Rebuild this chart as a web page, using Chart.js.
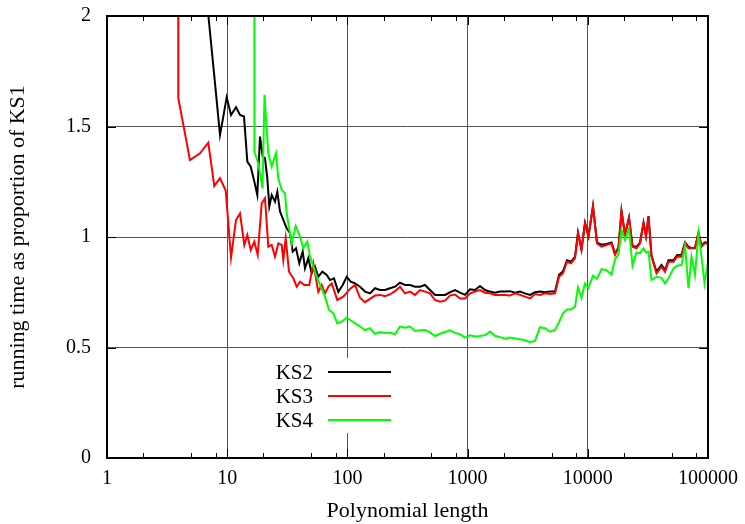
<!DOCTYPE html>
<html>
<head>
<meta charset="utf-8">
<script src="https://cdn.jsdelivr.net/npm/chart.js@4.4.1/dist/chart.umd.min.js"></script>
<style>
  html, body { margin: 0; padding: 0; background: #fff; }
</style>
</head>
<body>
<canvas id="runChart" width="745" height="524"></canvas>
<script>
// series names / colours
const seriesNames = ['KS2', 'KS3', 'KS4'];
const seriesColors = ['#000000', '#ff0000', '#00ff00'];

// start of each curve (lengths below ~120 differ per series)
const ks2HeadX = [6.5, 7.92, 8.71, 9.28, 9.90, 10.76, 11.84, 12.78, 13.80, 14.70, 15.69, 16.81, 17.80, 18.75, 19.74, 20.63, 21.56, 22.40, 23.46, 24.98, 26.12, 27.50, 29.29, 31.26, 33.31, 35.07, 37.36, 39.80, 42.47, 44.39, 47.29, 50.47, 53.77, 57.28, 61.83, 67.27, 71.65, 77.34, 84.03, 91.40, 98.7, 106.5, 115.7];
const ks2HeadY = [2.17, 1.695, 1.462, 1.545, 1.632, 1.552, 1.587, 1.552, 1.545, 1.341, 1.318, 1.251, 1.19, 1.454, 1.364, 1.356, 1.266, 1.138, 1.19, 1.16, 1.205, 1.115, 1.077, 1.039, 1.017, 0.934, 0.949, 0.881, 0.934, 0.858, 0.904, 0.836, 0.866, 0.82, 0.843, 0.828, 0.805, 0.813, 0.752, 0.783, 0.82, 0.798, 0.79];

const ks3HeadX = [3.9, 3.92, 4.90, 5.94, 6.96, 7.81, 8.71, 9.72, 10.76, 11.84, 12.78, 13.88, 14.70, 15.69, 16.81, 17.94, 19.36, 20.63, 21.98, 23.46, 24.98, 26.61, 28.41, 29.29, 30.67, 32.67, 35.47, 37.86, 40.35, 43.80, 48.19, 52.04, 57.28, 61.13, 65.12, 69.37, 74.03, 82.41, 92.46, 105.1, 115.7];
const ks3HeadY = [3.0, 1.628, 1.348, 1.379, 1.427, 1.231, 1.266, 1.21, 0.906, 1.077, 1.107, 0.964, 1.009, 0.941, 0.979, 0.919, 1.152, 1.175, 0.956, 0.964, 0.911, 0.971, 0.964, 0.896, 0.994, 0.843, 0.813, 0.775, 0.798, 0.783, 0.783, 0.881, 0.752, 0.783, 0.745, 0.775, 0.79, 0.715, 0.73, 0.765, 0.783];

const ks4HeadX = [16.8, 16.85, 18.14, 19.67, 20.43, 21.98, 23.46, 25.47, 26.61, 28.41, 30.27, 31.26, 34.40, 37.14, 40.35, 42.96, 46.39, 48.86, 52.04, 55.55, 59.16, 65.12, 70.31, 76.30, 82.41, 89.68, 98.7, 108.6, 119.5];
const ks4HeadY = [3.0, 1.386, 1.333, 1.22, 1.643, 1.379, 1.318, 1.379, 1.266, 1.213, 1.198, 1.107, 0.971, 1.05, 1.002, 0.949, 0.979, 0.911, 0.866, 0.82, 0.783, 0.73, 0.67, 0.655, 0.609, 0.617, 0.635, 0.62, 0.605];

// rest of the curves share the same lengths
const tailX = [127.3, 140.1, 154.2, 169.7, 186.7, 205.5, 226.1, 248.9, 273.8, 301.4, 331.7, 365.0, 401.8, 442.1, 486.6, 535.6, 589.3, 648.6, 713.8, 785.6,
  864.8, 951.5, 1047, 1152, 1268, 1396, 1536, 1690, 1860, 2047, 2253, 2479, 2729, 3003, 3305, 3637, 4003, 4406, 4849, 5336,
  5760, 6219, 6714, 7250, 7827, 8289, 8862, 9478, 10134, 11048, 11929, 13002, 14308, 15745, 16842, 18007, 19071, 20393, 22019, 23543,
  25421, 27188, 29070, 30497, 31989, 33884, 37291, 41036, 43885, 46933, 51646, 55231, 60205, 64385, 68820, 72910, 77951, 83375, 88306, 93510, 100000];

const ks2Tail = [0.775, 0.753, 0.745, 0.768, 0.76, 0.76, 0.768, 0.775, 0.793, 0.783, 0.783, 0.775, 0.775, 0.783, 0.76, 0.738, 0.738, 0.738, 0.75, 0.76,
  0.748, 0.738, 0.763, 0.76, 0.778, 0.76, 0.753, 0.748, 0.753, 0.753, 0.755, 0.748, 0.753, 0.745, 0.738, 0.75, 0.753, 0.75, 0.753, 0.753,
  0.828, 0.845, 0.895, 0.888, 0.91, 1.02, 0.945, 1.065, 1.005, 1.14, 0.975, 0.965, 0.968, 0.975, 0.925, 0.952, 1.118, 1.01, 1.088, 0.96,
  0.955, 0.975, 1.065, 1.005, 1.095, 0.915, 0.843, 0.873, 0.85, 0.895, 0.895, 0.918, 0.92, 0.975, 0.955, 0.95, 0.95, 1.02, 0.96, 0.975, 0.975];

const ks3Tail = [0.725, 0.705, 0.72, 0.735, 0.738, 0.732, 0.74, 0.755, 0.775, 0.745, 0.753, 0.738, 0.76, 0.753, 0.745, 0.715, 0.707, 0.712, 0.735, 0.74,
  0.722, 0.722, 0.745, 0.753, 0.76, 0.748, 0.745, 0.738, 0.738, 0.738, 0.735, 0.745, 0.738, 0.73, 0.722, 0.742, 0.738, 0.745, 0.742, 0.745,
  0.82, 0.836, 0.888, 0.881, 0.904, 1.017, 0.941, 1.06, 1.002, 1.138, 0.971, 0.956, 0.964, 0.971, 0.919, 0.949, 1.115, 1.009, 1.085, 0.956,
  0.949, 0.971, 1.062, 1.002, 1.092, 0.911, 0.836, 0.866, 0.843, 0.888, 0.888, 0.911, 0.911, 0.971, 0.949, 0.949, 0.949, 1.017, 0.956, 0.971, 0.971];

const ks4Tail = [0.595, 0.579, 0.587, 0.562, 0.57, 0.566, 0.568, 0.56, 0.595, 0.59, 0.595, 0.575, 0.578, 0.579, 0.568, 0.552, 0.562, 0.57, 0.578, 0.566,
  0.56, 0.545, 0.555, 0.55, 0.552, 0.556, 0.572, 0.553, 0.547, 0.54, 0.545, 0.541, 0.537, 0.533, 0.524, 0.53, 0.592, 0.587, 0.572, 0.579,
  0.615, 0.655, 0.672, 0.672, 0.685, 0.772, 0.725, 0.79, 0.77, 0.825, 0.81, 0.855, 0.85, 0.83, 0.9, 0.92, 1.03, 0.986, 1.039, 0.87,
  0.93, 0.926, 0.949, 0.93, 0.934, 0.805, 0.82, 0.815, 0.79, 0.813, 0.858, 0.87, 0.873, 0.96, 0.768, 0.911, 0.828, 1.017, 0.911, 0.79, 0.888];

// axis ticks
const xTicks = [1, 10, 100, 1000, 10000, 100000];
const xMinorSteps = [2, 5, 8];
const yTicks = [0, 0.5, 1, 1.5, 2];

const serif = 'Liberation Serif';

function toPoints(headX, headY, tailY) {
  const pts = headX.map((x, i) => ({ x: x, y: headY[i] }));
  return pts.concat(tailX.map((x, i) => ({ x: x, y: tailY[i] })));
}

// gnuplot style frame: inward ticks, box border, legend inside the plot
const framePlugin = {
  id: 'frame',
  afterDatasetsDraw(chart) {
    const ctx = chart.ctx;
    const a = chart.chartArea;
    const xs = chart.scales.x, ys = chart.scales.y;
    ctx.save();
    ctx.strokeStyle = '#000';
    ctx.lineWidth = 1;
    ctx.beginPath();
    xTicks.forEach(v => {
      const px = Math.round(xs.getPixelForValue(v)) + 0.5;
      ctx.moveTo(px, a.bottom); ctx.lineTo(px, a.bottom - 9);
      ctx.moveTo(px, a.top); ctx.lineTo(px, a.top + 9);
      if (v < 100000) {
        xMinorSteps.forEach(m => {
          const mx = Math.round(xs.getPixelForValue(v * m)) + 0.5;
          ctx.moveTo(mx, a.bottom); ctx.lineTo(mx, a.bottom - 5);
          ctx.moveTo(mx, a.top); ctx.lineTo(mx, a.top + 5);
        });
      }
    });
    yTicks.forEach(v => {
      const py = Math.round(ys.getPixelForValue(v)) + 0.5;
      ctx.moveTo(a.left, py); ctx.lineTo(a.left + 9, py);
      ctx.moveTo(a.right, py); ctx.lineTo(a.right - 9, py);
    });
    ctx.stroke();

    ctx.lineWidth = 2;
    ctx.strokeRect(a.left, a.top, a.right - a.left, a.bottom - a.top);

    // legend
    const lx = a.left + 221, ly = a.top + 356;
    ctx.fillStyle = '#fff';
    ctx.fillRect(lx - 60, ly - 14, 140, 75);
    ctx.font = '21px "' + serif + '"';
    ctx.textAlign = 'right';
    ctx.textBaseline = 'middle';
    seriesNames.forEach((name, i) => {
      const yy = ly + i * 24;
      ctx.fillStyle = '#000';
      ctx.fillText(name, lx - 15, yy + 1);
      ctx.strokeStyle = seriesColors[i];
      ctx.lineWidth = 2;
      ctx.beginPath();
      ctx.moveTo(lx, yy); ctx.lineTo(lx + 63, yy);
      ctx.stroke();
    });
    ctx.restore();
  }
};

const runData = {
  datasets: [
    { label: seriesNames[0], data: toPoints(ks2HeadX, ks2HeadY, ks2Tail), order: 3 },
    { label: seriesNames[1], data: toPoints(ks3HeadX, ks3HeadY, ks3Tail), order: 2 },
    { label: seriesNames[2], data: toPoints(ks4HeadX, ks4HeadY, ks4Tail), order: 1 }
  ].map((d, i) => Object.assign(d, {
    borderColor: seriesColors[i],
    backgroundColor: seriesColors[i],
    borderWidth: 2,
    pointRadius: 0,
    tension: 0,
    fill: false,
    clip: 0
  }))
};

const runConfig = {
  type: 'line',
  data: runData,
  options: {
    responsive: false,
    animation: false,
    layout: { padding: { top: 16, right: 37, bottom: 0, left: 0 } },
    plugins: {
      legend: { display: false },
      tooltip: { enabled: false }
    },
    scales: {
      x: {
        type: 'logarithmic',
        min: 1,
        max: 100000,
        afterBuildTicks: s => { s.ticks = xTicks.map(v => ({ value: v })); },
        afterFit: s => { s.height = 66; s.paddingLeft = 0; s.paddingRight = 0; },
        grid: { color: '#555', lineWidth: 1, drawTicks: false },
        border: { display: false },
        ticks: {
          autoSkip: false,
          maxRotation: 0,
          padding: 9,
          color: '#000',
          font: { family: serif, size: 20 },
          callback: v => String(v)
        },
        title: {
          display: true,
          text: 'Polynomial length',
          color: '#000',
          font: { family: serif, size: 22 },
          padding: { top: 0, bottom: 0 }
        }
      },
      y: {
        min: 0,
        max: 2,
        afterBuildTicks: s => { s.ticks = yTicks.map(v => ({ value: v })); },
        afterFit: s => { s.width = 107; s.paddingTop = 0; s.paddingBottom = 0; },
        grid: { color: '#555', lineWidth: 1, drawTicks: false },
        border: { display: false },
        ticks: {
          padding: 16,
          color: '#000',
          font: { family: serif, size: 20 },
          callback: v => String(v)
        },
        title: {
          display: true,
          text: 'running time as proportion of KS1',
          color: '#000',
          font: { family: serif, size: 22 },
          padding: { top: 5, bottom: 0 }
        }
      }
    }
  },
  plugins: [framePlugin]
};

window.onload = function() {
  const runCtx = document.getElementById('runChart').getContext('2d');
  new Chart(runCtx, runConfig);
};
</script>
</body>
</html>
